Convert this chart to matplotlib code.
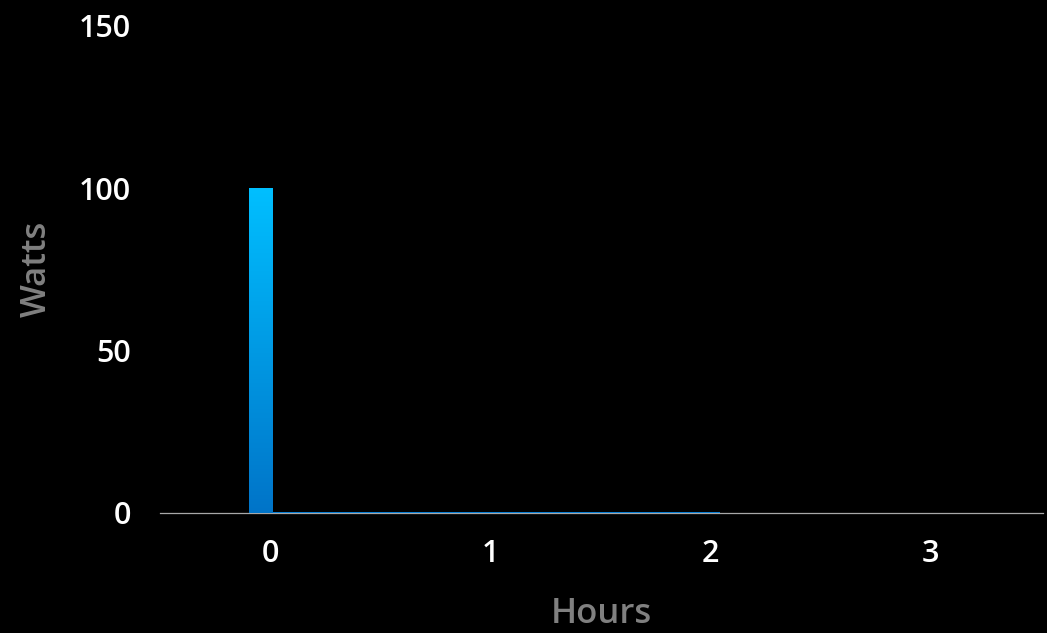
import numpy as np
import matplotlib
matplotlib.use('Agg')
import matplotlib.pyplot as plt
from matplotlib.colors import LinearSegmentedColormap

# data
bar_start = [-0.095, 0.01]
bar_end = [0.01, 2.045]
watts = [100, 0.4]
x_ticks = [0, 1, 2, 3]
y_ticks = [0, 50, 100, 150]

plt.rcParams['font.family'] = ['Open Sans', 'DejaVu Sans']

fig = plt.figure(figsize=(10.47, 6.33), dpi=100, facecolor='black')
ax = fig.add_axes([0.1528, 0.1896, 0.8434, 0.7701])
ax.set_facecolor('black')

widths = [e - s for s, e in zip(bar_start, bar_end)]
bars = ax.bar(bar_start, watts, width=widths, align='edge', color='#0a7fd4',
              linewidth=0, zorder=3)

# vertical gradient on the tall bar
grad = LinearSegmentedColormap.from_list('g', ['#0074c8', '#00bfff'])
b = bars[0]
img = ax.imshow(np.linspace(0, 1, 256).reshape(-1, 1), cmap=grad, origin='lower',
                aspect='auto', zorder=3.5,
                extent=[b.get_x(), b.get_x() + b.get_width(), 0, b.get_height()])
img.set_clip_path(b)

ax.set_xlim(-0.5, 3.51)
ax.set_ylim(0, 150)
ax.set_xticks(x_ticks)
ax.set_yticks(y_ticks)
ax.tick_params(length=0, colors='white', labelsize=22)
ax.tick_params(axis='y', pad=21)
ax.tick_params(axis='x', pad=19)
for lab in ax.get_xticklabels() + ax.get_yticklabels():
    lab.set_fontweight('semibold')

for s in ['top', 'right', 'left']:
    ax.spines[s].set_visible(False)
ax.spines['bottom'].set_color('#a8a8a8')
ax.spines['bottom'].set_linewidth(0.9)
ax.spines['bottom'].set_zorder(2)

ax.set_xlabel('Hours', color='#808080', fontsize=25, fontweight='semibold', labelpad=20)
ax.set_ylabel('Watts', color='#808080', fontsize=25, fontweight='semibold', labelpad=18)

fig.savefig('out.png', dpi=100, facecolor='black')
